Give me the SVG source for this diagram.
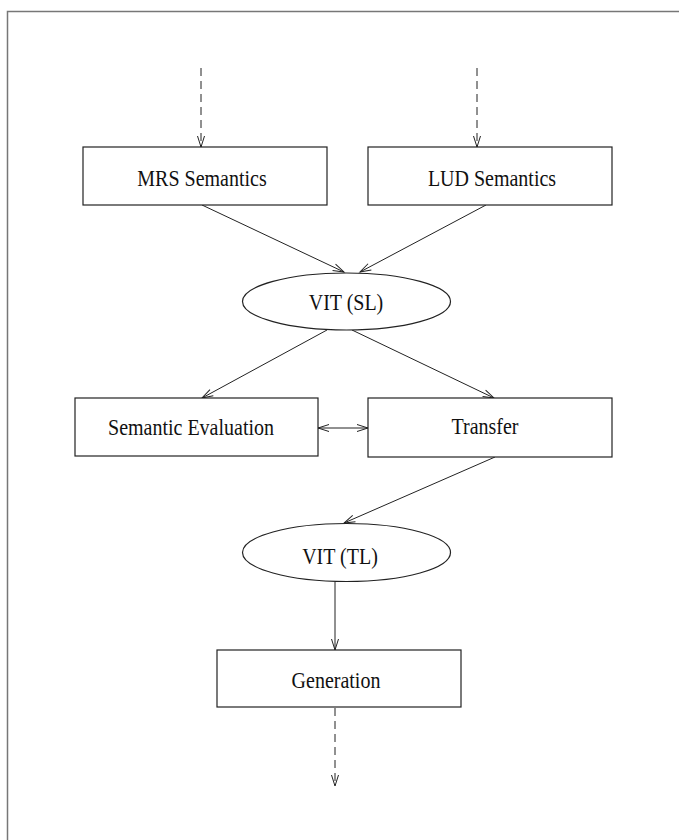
<svg xmlns="http://www.w3.org/2000/svg" width="679" height="840" viewBox="0 0 679 840">
<style>
.box{fill:#fff;stroke:#222;stroke-width:1.2}
.lbl{font-family:"Liberation Serif","Times New Roman",serif;font-size:20px;fill:#111;text-anchor:middle}
.c{fill:none;stroke:#222;stroke-width:1}
.d{stroke-dasharray:8 5}
.frame{fill:none;stroke:#777;stroke-width:1.5}
</style>
<defs>
<marker id="ah" markerUnits="userSpaceOnUse" markerWidth="14" markerHeight="10" viewBox="-12 -5 14 10" refX="0" refY="0" orient="auto-start-reverse" overflow="visible">
<path d="M-11,-3.5 L0,0 L-11,3.5" fill="none" stroke="#222" stroke-width="1"/>
</marker>
</defs>
<path class="frame" d="M7.5,840 V11.5 H679"/>
<g id="connectors">
<line class="c d" x1="201" y1="68" x2="201" y2="147" marker-end="url(#ah)"/>
<line class="c d" x1="477" y1="68" x2="477" y2="147" marker-end="url(#ah)"/>
<line class="c" x1="202" y1="205" x2="344" y2="272" marker-end="url(#ah)"/>
<line class="c" x1="486" y1="205" x2="360" y2="272" marker-end="url(#ah)"/>
<line class="c" x1="327" y1="330" x2="202" y2="398" marker-end="url(#ah)"/>
<line class="c" x1="352" y1="330" x2="494" y2="398" marker-end="url(#ah)"/>
<line class="c" x1="318" y1="428" x2="368" y2="428" marker-start="url(#ah)" marker-end="url(#ah)"/>
<line class="c" x1="495" y1="457" x2="344" y2="523" marker-end="url(#ah)"/>
<line class="c" x1="335" y1="582" x2="335" y2="650" marker-end="url(#ah)"/>
<line class="c d" x1="335" y1="708" x2="335" y2="786" marker-end="url(#ah)"/>
</g>
<g id="mrs">
<rect class="box" x="83" y="147" width="244" height="58"/>
<text class="lbl" transform="translate(202,186) scale(1,1.17)">MRS Semantics</text>
</g>
<g id="lud">
<rect class="box" x="368" y="147" width="244" height="58"/>
<text class="lbl" transform="translate(492,186) scale(1,1.17)">LUD Semantics</text>
</g>
<g id="vitsl">
<ellipse class="box" cx="346.5" cy="301.5" rx="104" ry="28.5"/>
<text class="lbl" transform="translate(346,310) scale(1,1.17)">VIT (SL)</text>
</g>
<g id="semeval">
<rect class="box" x="75" y="398" width="243" height="58"/>
<text class="lbl" transform="translate(191,435) scale(1,1.17)">Semantic Evaluation</text>
</g>
<g id="transfer">
<rect class="box" x="368" y="398" width="244" height="59"/>
<text class="lbl" transform="translate(485,434) scale(1,1.17)">Transfer</text>
</g>
<g id="vittl">
<ellipse class="box" cx="346.5" cy="552.5" rx="104" ry="29"/>
<text class="lbl" transform="translate(340,564) scale(1,1.17)">VIT (TL)</text>
</g>
<g id="generation">
<rect class="box" x="217" y="650" width="244" height="57"/>
<text class="lbl" transform="translate(336,688) scale(1,1.17)">Generation</text>
</g>
</svg>
